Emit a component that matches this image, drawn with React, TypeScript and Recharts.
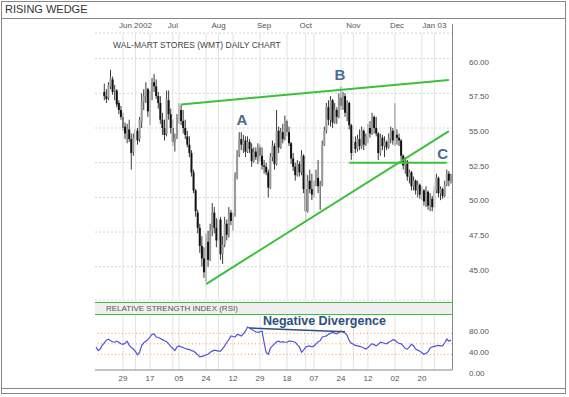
import React from 'react';
import { ComposedChart, Bar, Line, XAxis, YAxis, CartesianGrid, ReferenceLine, ReferenceDot } from 'recharts';

// daily bars: open, high, low, close
type Ohlc = [number, number, number, number];

const mayBars: Ohlc[] = [
  [57.6, 58.2, 57.0, 57.3], [57.3, 57.8, 56.8, 57.1], [57.2, 58.3, 57.0, 58.1], [58.0, 59.2, 57.8, 58.6],
  [58.5, 58.7, 57.4, 57.6], [57.7, 58.1, 57.0, 57.8], [57.7, 57.8, 56.5, 56.7], [56.8, 57.0, 56.0, 56.3],
  [56.3, 56.6, 55.6, 55.8], [55.8, 56.1, 54.8, 55.0], [55.1, 55.4, 54.2, 54.6], [54.5, 55.3, 53.9, 54.9],
];
const junBars: Ohlc[] = [
  [54.9, 55.6, 54.0, 54.2], [54.2, 54.6, 52.0, 53.2], [53.3, 54.6, 53.0, 54.3], [54.2, 55.3, 53.9, 54.9],
  [54.8, 55.0, 53.8, 54.1], [54.2, 55.8, 54.0, 55.6], [55.4, 57.5, 55.0, 56.9], [56.9, 57.8, 56.3, 57.3],
  [57.3, 58.3, 56.8, 57.9], [57.8, 57.9, 55.8, 56.2], [56.3, 57.7, 55.2, 57.4], [57.4, 58.6, 57.0, 58.3],
  [58.3, 58.9, 57.6, 58.0], [58.0, 58.5, 57.1, 57.3], [57.3, 57.6, 56.4, 56.8], [56.8, 57.3, 55.3, 55.6],
  [55.6, 56.1, 54.5, 55.0], [55.0, 55.6, 54.1, 54.5], [54.6, 57.7, 54.4, 57.1], [57.0, 57.7, 55.6, 56.0],
];
const julBars: Ohlc[] = [
  [56.0, 56.4, 54.6, 55.0], [55.0, 55.6, 53.7, 54.0], [54.0, 54.6, 53.3, 54.3], [54.4, 56.0, 54.2, 55.8],
  [55.7, 56.8, 55.3, 56.3], [56.3, 56.7, 55.2, 55.5], [55.5, 56.3, 54.6, 55.0], [55.0, 55.6, 54.2, 54.5],
  [54.4, 54.8, 53.6, 53.8], [53.8, 54.4, 52.9, 53.2], [53.2, 53.4, 51.5, 51.8], [51.8, 52.0, 50.3, 50.5],
  [50.5, 50.6, 48.6, 49.0], [48.9, 49.1, 47.4, 47.8], [47.8, 48.1, 46.0, 46.5], [46.5, 47.2, 45.0, 45.6],
  [45.6, 46.4, 44.2, 44.6], [44.6, 47.4, 43.9, 46.8], [46.8, 47.6, 45.0, 45.5], [45.5, 48.1, 45.4, 47.6],
  [47.6, 49.6, 47.2, 48.9], [48.9, 49.3, 47.4, 47.8],
];
const augBars: Ohlc[] = [
  [47.8, 48.5, 46.4, 46.9], [46.9, 49.1, 46.6, 48.4], [48.4, 48.6, 45.5, 45.9], [45.9, 47.2, 45.2, 46.6],
  [46.6, 48.6, 46.4, 48.1], [48.1, 48.4, 46.9, 47.3], [47.3, 49.3, 47.1, 48.9], [48.9, 49.1, 48.0, 48.3],
  [48.3, 48.9, 47.6, 48.7], [48.7, 51.8, 48.6, 51.5], [51.5, 53.4, 51.3, 53.1], [53.1, 54.7, 52.9, 54.2],
  [54.2, 54.7, 53.4, 53.8], [53.8, 54.5, 53.2, 54.1], [54.1, 54.4, 52.9, 53.3], [53.3, 54.4, 53.2, 54.0],
  [54.0, 54.2, 53.2, 53.5], [53.5, 53.9, 52.2, 52.6], [52.6, 53.6, 52.5, 53.3], [53.3, 53.6, 52.7, 52.9],
  [52.9, 53.9, 52.4, 53.6], [53.6, 53.8, 52.6, 53.0],
];
const sepBars: Ohlc[] = [
  [53.0, 53.6, 52.0, 52.3], [52.3, 52.7, 51.7, 52.2], [52.2, 52.5, 51.6, 51.8], [51.8, 52.0, 50.0, 50.7],
  [50.7, 53.2, 50.6, 52.9], [52.9, 54.1, 52.6, 53.7], [53.7, 53.9, 52.0, 52.4], [52.4, 56.3, 52.3, 54.8],
  [54.8, 55.1, 53.2, 53.6], [53.6, 55.0, 53.5, 54.7], [54.7, 55.3, 53.9, 54.2], [54.2, 55.9, 54.1, 55.5],
  [55.5, 55.6, 54.4, 54.7], [54.7, 55.1, 53.7, 53.9], [53.9, 54.0, 52.4, 52.8], [52.8, 53.2, 51.9, 52.2],
  [52.2, 52.5, 51.2, 51.6], [51.6, 52.7, 51.5, 52.4], [52.4, 52.6, 51.5, 51.8], [51.8, 53.4, 51.6, 53.0],
];
const octBars: Ohlc[] = [
  [53.0, 53.1, 50.3, 50.6], [50.6, 51.7, 48.2, 49.0], [49.0, 51.6, 48.9, 51.2], [51.2, 52.0, 50.3, 50.6],
  [50.6, 51.7, 49.8, 50.2], [50.2, 51.2, 50.0, 51.0], [51.0, 52.0, 50.8, 51.4], [51.4, 52.7, 50.3, 50.8],
  [50.8, 51.2, 49.1, 50.9], [50.9, 54.1, 50.8, 53.8], [53.8, 55.1, 53.7, 54.8], [54.8, 56.8, 54.6, 56.5],
  [56.5, 57.0, 55.2, 55.6], [55.6, 57.3, 55.1, 57.0], [57.0, 57.1, 55.0, 55.4], [55.4, 56.8, 55.3, 56.3],
  [56.3, 56.5, 55.3, 55.8], [55.8, 57.5, 55.7, 57.2], [57.2, 58.0, 56.3, 56.6], [56.6, 57.6, 56.3, 57.3],
  [57.3, 57.5, 55.8, 56.1], [56.1, 57.0, 55.5, 56.8], [56.8, 56.9, 54.9, 55.2],
];
const novBars: Ohlc[] = [
  [55.2, 55.3, 52.7, 53.2], [53.2, 54.4, 53.0, 54.0], [54.0, 54.4, 53.2, 53.5], [53.5, 54.5, 53.3, 54.2],
  [54.2, 54.9, 53.4, 53.7], [53.7, 55.1, 53.5, 54.8], [54.8, 54.9, 53.4, 53.8], [53.8, 54.6, 53.7, 54.4],
  [54.4, 55.3, 53.9, 55.0], [55.0, 55.5, 54.3, 54.6], [54.6, 56.1, 54.5, 55.8], [55.8, 55.9, 54.6, 55.0],
  [55.0, 55.8, 54.4, 54.6], [54.6, 54.7, 52.7, 53.2], [53.2, 54.6, 53.0, 54.3], [54.3, 54.5, 53.4, 53.7],
  [53.7, 54.4, 52.9, 54.0], [54.0, 54.1, 53.4, 53.6], [53.6, 54.6, 53.5, 54.3], [54.3, 55.1, 53.9, 54.8],
];
const decBars: Ohlc[] = [
  [54.8, 55.0, 53.8, 54.1], [54.1, 56.8, 53.7, 54.5], [54.5, 54.9, 53.8, 54.3], [54.3, 54.6, 53.7, 54.1],
  [54.1, 54.2, 52.7, 53.0], [53.0, 53.1, 52.0, 52.3], [52.3, 52.9, 51.7, 52.6], [52.6, 52.7, 51.2, 51.5],
  [51.5, 52.0, 51.0, 51.8], [51.8, 51.9, 50.5, 50.8], [50.8, 51.5, 50.5, 51.2], [51.2, 51.3, 50.2, 50.5],
  [50.5, 51.2, 50.0, 50.9], [50.9, 51.0, 49.9, 50.2], [50.2, 50.8, 49.8, 50.5], [50.5, 50.6, 49.4, 49.7],
  [49.7, 50.8, 49.3, 50.4], [50.4, 50.5, 49.1, 49.4], [49.4, 50.3, 49.0, 49.9], [49.9, 50.1, 49.0, 49.3],
  [49.3, 50.8, 49.2, 50.5],
];
const janBars: Ohlc[] = [
  [50.5, 51.7, 50.3, 51.4], [51.4, 51.5, 50.0, 50.3], [50.3, 50.8, 49.8, 50.6], [50.6, 50.7, 49.9, 50.1],
  [50.1, 51.2, 50.0, 50.9], [50.9, 52.0, 50.8, 51.7], [51.7, 51.9, 50.8, 51.2], [51.2, 51.7, 51.0, 51.6],
];

// RSI (14) readings; the lead values come before the first bar shown
const rsiLead = [44, 37, 40, 47];
const mayRsi = [52, 57, 59, 56, 54, 53, 55, 53, 50, 49, 51, 55];
const junRsi = [47, 43, 40, 35, 29, 34, 47, 52, 55, 58, 63, 68, 69, 63, 62, 60, 58, 56, 54, 50];
const julRsi = [45, 41, 37, 44, 46, 44, 43, 41, 40, 39, 37, 36, 33, 29, 25, 26, 27, 29, 30, 34, 36, 38];
const augRsi = [37, 36, 36, 41, 46, 53, 58, 65, 64, 63, 68, 67, 65, 69, 74, 82, 80, 78, 75, 73, 72, 73];
const sepRsi = [74, 52, 33, 30, 42, 46, 50, 54, 55, 53, 54, 53, 53, 55, 55, 54, 53, 48, 44, 34];
const octRsi = [38, 44, 45, 46, 44, 46, 50, 54, 56, 63, 64, 65, 68, 70, 72, 70, 69, 72, 74, 73, 70, 66, 56];
const novRsi = [51, 49, 47, 46, 45, 44, 42, 40, 43, 47, 50, 48, 46, 49, 53, 52, 51, 50, 53, 55];
const decRsi = [58, 57, 53, 51, 50, 46, 41, 40, 44, 49, 46, 40, 38, 36, 33, 30, 32, 35, 42, 44, 45];
const janRsi = [46, 47, 46, 46, 52, 59, 55, 57];

// axis ticks (trading-day index)
const dayTicks = [9, 22, 36, 49, 62, 75, 88, 101, 114, 127, 140, 153];
const dayLabels = ['29', '17', '05', '24', '12', '29', '18', '07', '24', '12', '02', '20'];
const monthTicks = [15, 33, 55, 77, 97, 120, 141, 159];
const monthLabels = ['Jun 2002', 'Jul', 'Aug', 'Sep', 'Oct', 'Nov', 'Dec', 'Jan 03'];
const priceTicks = [45, 47.5, 50, 52.5, 55, 57.5, 60];
const rsiTicks = [0, 40, 80];
const rsiLevels = [30, 50, 70];

// pattern annotations: [day index, value]
const upperWedge = [[37, 56.7], [166, 58.46]];
const lowerWedge = [[49, 43.75], [166, 54.78]];
const supportC = [[118, 52.5], [165, 52.5]];
const divergence = [[70, 80], [116, 73]];
const pointLabels = [
  { name: 'A', i: 66.3, p: 55.6 },
  { name: 'B', i: 113.5, p: 58.85 },
  { name: 'C', i: 163, p: 53.15 },
];

const barMonths = [mayBars, junBars, julBars, augBars, sepBars, octBars, novBars, decBars, janBars];
const rsiMonths = [mayRsi, junRsi, julRsi, augRsi, sepRsi, octRsi, novRsi, decRsi, janRsi];

const priceRows = barMonths.flat().map((b, i) => ({ i, o: b[0], h: b[1], l: b[2], c: b[3], range: [b[2], b[1]] }));
const rsiRows = [...rsiLead, ...rsiMonths.flat()].map((v, k) => ({ i: k - rsiLead.length, rsi: v }));

const X_DOMAIN: [number, number] = [-4.5, 167.5];
const FONT = '"Liberation Sans", Arial, sans-serif';
const GREEN = '#3cc03c';
const GRID = '#e2e2e2';
// vertical grid: tick days plus month starts, skipping near duplicates
const gridDays = [...dayTicks, ...monthTicks.filter((m) => !dayTicks.some((d) => Math.abs(d - m) < 3))];

const Candle = (props: any) => {
  const { x, y, width, height, payload } = props;
  if (!payload || x == null || y == null) return null;
  const top = Math.min(y, y + height);
  const span = Math.abs(height);
  const per = span / (payload.h - payload.l || 1);
  const cx = x + width / 2;
  const oy = top + (payload.h - payload.o) * per;
  const cy = top + (payload.h - payload.c) * per;
  const up = payload.c >= payload.o;
  const bodyTop = Math.min(oy, cy);
  const bodyH = Math.max(Math.abs(oy - cy), 1);
  return (
    <g>
      <line x1={cx} x2={cx} y1={top} y2={top + span} stroke="#3a3a3a" strokeWidth={1} />
      <rect x={cx - 1} y={bodyTop} width={2} height={bodyH} fill={up ? '#999' : '#111'} />
    </g>
  );
};

const RightTick = (props: any) => {
  const { x, y, payload } = props;
  return (
    <text x={x + 9} y={y + 6} fontSize={8} fill="#555" fontFamily={FONT}>
      {Number(payload.value).toFixed(2)}
    </text>
  );
};

const App = () => {
  return (
    <div style={{ position: 'absolute', left: 0, top: 0, width: 569, height: 397, background: '#fff', fontFamily: FONT }}>
      {/* frame and title */}
      <div style={{ position: 'absolute', left: 1, top: 1, width: 565, height: 393, border: '1px solid #888', boxSizing: 'border-box' }} />
      <div style={{ position: 'absolute', left: 1, top: 18, width: 565, height: 0, borderTop: '1px solid #888' }} />
      <div style={{ position: 'absolute', left: 1, top: 388, width: 565, height: 0, borderTop: '1px solid #888' }} />
      <div style={{ position: 'absolute', left: 5, top: 3, fontSize: 11, color: '#333' }}>RISING WEDGE</div>

      <div style={{ position: 'absolute', left: 0, top: 0 }}>
        <ComposedChart width={569} height={302} data={priceRows} margin={{ top: 33, right: 0, bottom: 2, left: 95 }}>
          <XAxis dataKey="i" type="number" domain={X_DOMAIN} allowDataOverflow hide />
          <YAxis
            orientation="right"
            width={117}
            domain={[42.6, 61.85]}
            allowDataOverflow
            ticks={priceTicks}
            interval={0}
            tick={<RightTick />}
            axisLine={false}
            tickLine={false}
          />
          <CartesianGrid vertical={false} stroke="#d6d6d6" strokeDasharray="2 2" />
          {gridDays.map((d) => (
            <ReferenceLine key={'g' + d} x={d} stroke={GRID} />
          ))}
          {monthTicks.map((d, k) => (
            <ReferenceLine
              key={'m' + d}
              x={d}
              stroke="none"
              label={{ value: monthLabels[k], position: 'top', offset: 5, fontSize: 8, fill: '#555', fontFamily: FONT }}
            />
          ))}
          <Bar dataKey="range" barSize={2} shape={<Candle />} isAnimationActive={false} />
          {[upperWedge, lowerWedge, supportC].map((seg, k) => (
            <ReferenceLine
              key={'w' + k}
              segment={[{ x: seg[0][0], y: seg[0][1] }, { x: seg[1][0], y: seg[1][1] }]}
              stroke={GREEN}
              strokeWidth={2}
            />
          ))}
          {pointLabels.map((p) => (
            <ReferenceDot
              key={p.name}
              x={p.i}
              y={p.p}
              r={0}
              label={{ value: p.name, position: 'center', fontSize: 15, fontWeight: 'bold', fill: '#4a6b90', fontFamily: FONT }}
            />
          ))}
        </ComposedChart>
      </div>

      <div style={{ position: 'absolute', left: 113, top: 40, fontSize: 8.5, color: '#444', whiteSpace: 'nowrap' }}>
        WAL-MART STORES (WMT) DAILY CHART
      </div>

      {/* RSI caption band */}
      <div
        style={{
          position: 'absolute', left: 95, top: 302, width: 357, height: 13, boxSizing: 'border-box',
          borderTop: '1px solid ' + GREEN, borderBottom: '1px solid ' + GREEN, background: '#efefef',
          fontSize: 8, color: '#555', lineHeight: '11px', paddingLeft: 11, whiteSpace: 'nowrap',
        }}
      >
        RELATIVE STRENGTH INDEX (RSI)
      </div>

      <div style={{ position: 'absolute', left: 0, top: 315 }}>
        <ComposedChart width={569} height={80} data={rsiRows} margin={{ top: 0, right: 0, bottom: 0, left: 95 }}>
          <XAxis
            dataKey="i"
            type="number"
            domain={X_DOMAIN}
            allowDataOverflow
            ticks={dayTicks}
            interval={0}
            tickFormatter={(v: number) => dayLabels[dayTicks.indexOf(v)] ?? ''}
            height={25}
            axisLine={{ stroke: '#888' }}
            tickLine={false}
            tickSize={0}
            tickMargin={5}
            tick={{ fontSize: 8, fill: '#555', fontFamily: FONT }}
          />
          <YAxis
            orientation="right"
            width={117}
            domain={[0, 105]}
            allowDataOverflow
            ticks={rsiTicks}
            interval={0}
            tick={<RightTick />}
            axisLine={false}
            tickLine={false}
          />
          {gridDays.map((d) => (
            <ReferenceLine key={'rg' + d} x={d} stroke={GRID} />
          ))}
          {rsiLevels.map((v) => (
            <ReferenceLine key={'lv' + v} y={v} stroke="#eb9a4a" strokeWidth={1} strokeDasharray="1 2.5" />
          ))}
          <Line dataKey="rsi" type="linear" stroke="#5252e0" strokeWidth={1.2} dot={false} isAnimationActive={false} />
          <ReferenceLine
            segment={[{ x: divergence[0][0], y: divergence[0][1] }, { x: divergence[1][0], y: divergence[1][1] }]}
            stroke="#2e4f7d"
            strokeWidth={1.5}
          />
        </ComposedChart>
      </div>

      <div style={{ position: 'absolute', left: 263, top: 314, fontSize: 12.5, fontWeight: 'bold', color: '#2e4f7d', whiteSpace: 'nowrap' }}>
        Negative Divergence
      </div>

      {/* right edge of the plotting area */}
      <div style={{ position: 'absolute', left: 452, top: 24, width: 0, height: 346, borderLeft: '1px solid #888' }} />
    </div>
  );
};

export default App;
